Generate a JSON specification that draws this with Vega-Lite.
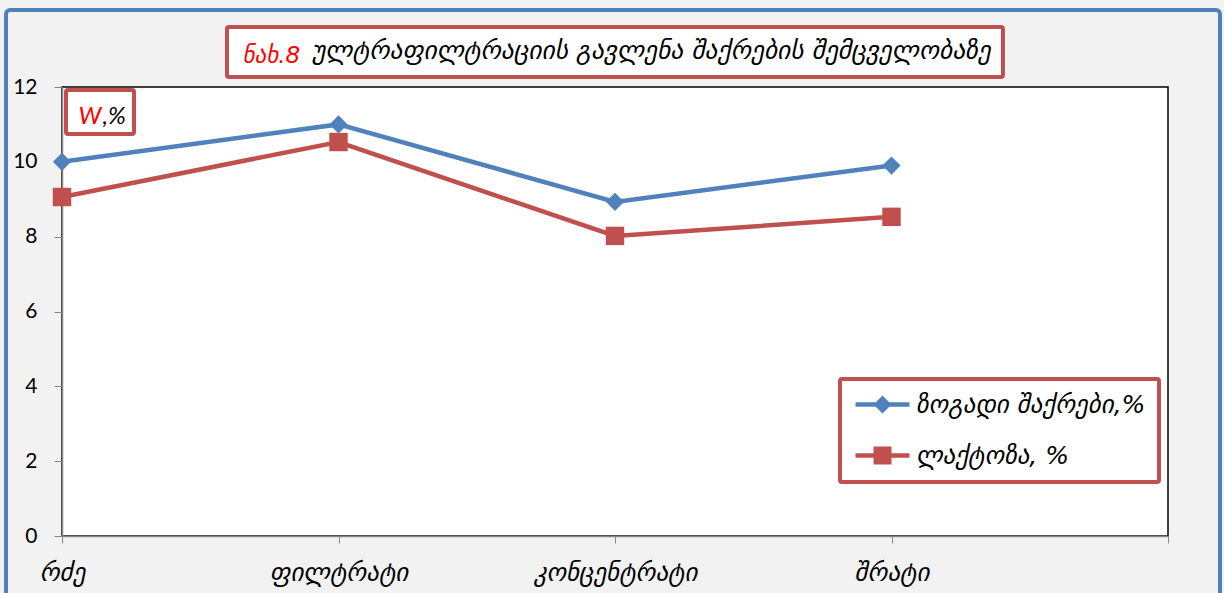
{
  "$schema": "https://vega.github.io/schema/vega-lite/v6.json",
  "width": 1106,
  "height": 449,
  "autosize": {"type": "none"},
  "padding": {"left": 62, "top": 87, "right": 56, "bottom": 57},
  "background": "#f2f2f2",
  "config": {
    "view": {"fill": "white", "stroke": "#000000", "strokeWidth": 1.5},
    "font": "DejaVu Sans",
    "legend": {"strokeWidth": 4}
  },
  "title": {
    "text": "ულტრაფილტრაციის  გავლენა შაქრების  შემცველობაზე",
    "anchor": "start",
    "frame": "group",
    "dx": 250,
    "dy": 69,
    "offset": 0,
    "baseline": "middle",
    "font": "DejaVu Sans",
    "fontSize": 25.5,
    "fontStyle": "italic",
    "fontWeight": "normal",
    "color": "#000000"
  },
  "data": {
    "values": [
      {"sample": "რძე", "series": "ზოგადი შაქრები,%", "value": 10.0},
      {"sample": "ფილტრატი", "series": "ზოგადი შაქრები,%", "value": 11.0},
      {"sample": "კონცენტრატი", "series": "ზოგადი შაქრები,%", "value": 8.93},
      {"sample": "შრატი", "series": "ზოგადი შაქრები,%", "value": 9.9},
      {"sample": "რძე", "series": "ლაქტოზა, %", "value": 9.06},
      {"sample": "ფილტრატი", "series": "ლაქტოზა, %", "value": 10.53},
      {"sample": "კონცენტრატი", "series": "ლაქტოზა, %", "value": 8.02},
      {"sample": "შრატი", "series": "ლაქტოზა, %", "value": 8.53}
    ]
  },
  "resolve": {
    "scale": {"x": "independent"},
    "axis": {"x": "independent", "y": "independent"}
  },
  "layer": [
    {
      "data": {"values": [{}]},
      "mark": {"type": "rect", "fillOpacity": 0, "stroke": "#4f81bd", "strokeWidth": 4, "cornerRadius": 4},
      "encoding": {
        "x": {"datum": -0.2025, "type": "quantitative", "scale": {"domain": [0, 4], "nice": false, "zero": false}, "axis": null},
        "x2": {"datum": 4.188},
        "y": {"datum": 14.058, "type": "quantitative", "scale": {"domain": [0, 12], "nice": false}, "axis": null},
        "y2": {"datum": -2}
      }
    },
    {
      "data": {"values": [{}]},
      "mark": {"type": "rect", "fill": "#ffffff", "stroke": "#c0504d", "strokeWidth": 4, "cornerRadius": 2},
      "encoding": {
        "x": {"datum": 0.5967, "type": "quantitative", "scale": {"domain": [0, 4], "nice": false, "zero": false}, "axis": null},
        "x2": {"datum": 3.403},
        "y": {"datum": 13.603, "type": "quantitative", "scale": {"domain": [0, 12], "nice": false}, "axis": null},
        "y2": {"datum": 12.267}
      }
    },
    {
      "data": {"values": [{}]},
      "mark": {"type": "rect", "fillOpacity": 0, "stroke": "#c0504d", "strokeWidth": 4, "cornerRadius": 2},
      "encoding": {
        "x": {"datum": 0.0145, "type": "quantitative", "scale": {"domain": [0, 4], "nice": false, "zero": false}, "axis": null},
        "x2": {"datum": 0.2604},
        "y": {"datum": 11.92, "type": "quantitative", "scale": {"domain": [0, 12], "nice": false}, "axis": null},
        "y2": {"datum": 10.744}
      }
    },
    {
      "transform": [{"filter": {"field": "series", "equal": "ზოგადი შაქრები,%"}}],
      "mark": {"type": "line", "color": "#4f81bd", "strokeWidth": 4.5},
      "encoding": {
        "x": {
          "field": "sample", "type": "ordinal",
          "scale": {"type": "point", "domain": ["რძე", "ფილტრატი", "კონცენტრატი", "შრატი", " "], "padding": 0},
          "sort": null,
          "axis": {
            "labelAngle": 0,
            "labelFont": "DejaVu Sans", "labelFontStyle": "italic", "labelFontSize": 25, "labelColor": "#000000",
            "labelBaseline": "top", "labelPadding": 17,
            "tickSize": 7, "tickColor": "#868686", "domainColor": "#868686", "domainWidth": 1.5,
            "grid": false,
            "title": ",%", "titleX": 40, "titleY": -420, "titleAlign": "left", "titleBaseline": "middle", "titleAngle": 0,
            "titleFont": "Lato", "titleFontStyle": "italic", "titleFontWeight": "normal", "titleFontSize": 24, "titleColor": "#000000"
          }
        },
        "y": {
          "field": "value", "type": "quantitative",
          "scale": {"domain": [0, 12], "nice": false},
          "axis": {
            "values": [0, 2, 4, 6, 8, 10, 12],
            "labelFont": "Lato", "labelFontSize": 21, "labelColor": "#000000", "labelPadding": 17,
            "tickSize": 8, "tickColor": "#868686", "domainColor": "#868686", "domainWidth": 1.5,
            "grid": false,
            "title": "W", "titleX": 16, "titleY": 29, "titleAlign": "left", "titleBaseline": "middle", "titleAngle": 0,
            "titleFont": "Lato", "titleFontStyle": "italic", "titleFontWeight": "normal", "titleFontSize": 24, "titleColor": "#ff0000"
          }
        }
      }
    },
    {
      "transform": [{"filter": {"field": "series", "equal": "ლაქტოზა, %"}}],
      "mark": {"type": "line", "color": "#c0504d", "strokeWidth": 4.5},
      "encoding": {
        "x": {"field": "sample", "type": "ordinal", "scale": {"type": "point", "domain": ["რძე", "ფილტრატი", "კონცენტრატი", "შრატი", " "], "padding": 0}, "sort": null, "axis": null},
        "y": {"field": "value", "type": "quantitative", "scale": {"domain": [0, 12], "nice": false}, "axis": null}
      }
    },
    {
      "transform": [{"filter": {"field": "series", "equal": "ზოგადი შაქრები,%"}}],
      "mark": {"type": "point", "shape": "diamond", "filled": true, "color": "#4f81bd", "size": 330, "opacity": 1},
      "encoding": {
        "x": {"field": "sample", "type": "ordinal", "scale": {"type": "point", "domain": ["რძე", "ფილტრატი", "კონცენტრატი", "შრატი", " "], "padding": 0}, "sort": null, "axis": null},
        "y": {"field": "value", "type": "quantitative", "scale": {"domain": [0, 12], "nice": false}, "axis": null}
      }
    },
    {
      "transform": [{"filter": {"field": "series", "equal": "ლაქტოზა, %"}}],
      "mark": {"type": "point", "shape": "square", "filled": true, "color": "#c0504d", "size": 340, "opacity": 1},
      "encoding": {
        "x": {"field": "sample", "type": "ordinal", "scale": {"type": "point", "domain": ["რძე", "ფილტრატი", "კონცენტრატი", "შრატი", " "], "padding": 0}, "sort": null, "axis": null},
        "y": {"field": "value", "type": "quantitative", "scale": {"domain": [0, 12], "nice": false}, "axis": null}
      }
    },
    {
      "transform": [{"filter": "false"}],
      "mark": {"type": "point", "filled": true, "size": 324, "opacity": 1, "strokeWidth": 0},
      "encoding": {
        "x": {"field": "sample", "type": "ordinal", "scale": {"type": "point", "domain": ["რძე", "ფილტრატი", "კონცენტრატი", "შრატი", " "], "padding": 0}, "sort": null, "axis": null},
        "y": {
          "field": "value", "type": "quantitative",
          "scale": {"domain": [0, 12], "nice": false},
          "axis": {
            "orient": "right", "labels": false, "ticks": false, "domain": false, "grid": false, "zindex": 1,
            "title": "ნახ.8", "titleX": -926, "titleY": -32, "titleAlign": "left", "titleBaseline": "middle", "titleAngle": 0,
            "titleFont": "DejaVu Sans", "titleFontStyle": "italic", "titleFontWeight": "normal", "titleFontSize": 23, "titleColor": "#ff0000"
          }
        },
        "color": {
          "field": "series", "type": "nominal",
          "scale": {"domain": ["ზოგადი შაქრები,%", "ლაქტოზა, %"], "range": ["#4f81bd", "#c0504d"]},
          "legend": {
            "orient": "none", "legendX": 778, "legendY": 292, "title": null,
            "padding": 13, "strokeColor": "#c0504d", "fillColor": "#ffffff", "cornerRadius": 2,
            "symbolOffset": 17, "labelOffset": 21, "rowPadding": 25,
            "labelFont": "DejaVu Sans", "labelFontStyle": "italic", "labelFontSize": 25, "labelColor": "#000000", "labelLimit": 0,
            "symbolSize": 324, "symbolStrokeWidth": 0
          }
        },
        "shape": {
          "field": "series", "type": "nominal",
          "scale": {
            "domain": ["ზოგადი შაქრები,%", "ლაქტოზა, %"],
            "range": ["M-3,-0.24L3,-0.24L3,0.24L-3,0.24Z M-1,0L0,-1L1,0L0,1Z", "M-3,-0.24L3,-0.24L3,0.24L-3,0.24Z M-1,-1L1,-1L1,1L-1,1Z"]
          },
          "legend": {
            "orient": "none", "legendX": 778, "legendY": 292, "title": null,
            "padding": 13, "strokeColor": "#c0504d", "fillColor": "#ffffff", "cornerRadius": 2,
            "symbolOffset": 17, "labelOffset": 21, "rowPadding": 25,
            "labelFont": "DejaVu Sans", "labelFontStyle": "italic", "labelFontSize": 25, "labelColor": "#000000", "labelLimit": 0,
            "symbolSize": 324, "symbolStrokeWidth": 0
          }
        }
      }
    }
  ]
}
